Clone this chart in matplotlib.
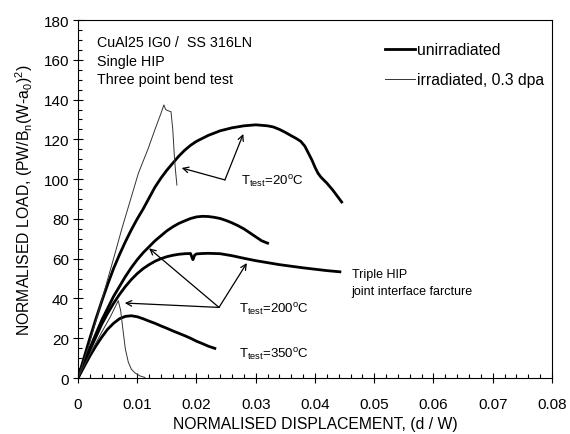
import matplotlib
matplotlib.use("Agg")
from matplotlib import pyplot as plt
from matplotlib.ticker import MultipleLocator

plt.rcParams['font.family'] = ['Liberation Sans', 'DejaVu Sans']
plt.rcParams['mathtext.fontset'] = 'custom'
plt.rcParams['mathtext.rm'] = 'Liberation Sans'
plt.rcParams['mathtext.it'] = 'Liberation Sans'

# unirradiated, T = 20 C
d_20 = [0, 0.001, 0.002, 0.003, 0.004, 0.005, 0.006, 0.007, 0.008, 0.009, 0.010, 0.011,
        0.012, 0.013, 0.014, 0.015, 0.016, 0.017, 0.018, 0.019, 0.020, 0.022, 0.024, 0.026,
        0.028, 0.030, 0.032, 0.033, 0.034, 0.035, 0.036, 0.0368, 0.0376, 0.0383, 0.0389,
        0.0395, 0.040, 0.0405, 0.041, 0.042, 0.043, 0.044, 0.0445]
p_20 = [0, 10, 20, 29.5, 38.5, 47, 55, 62, 68.5, 74.5, 80, 85, 90.5, 96, 100.5, 104.5,
        108, 111.5, 114.5, 117, 119, 122, 124.3, 125.8, 126.8, 127.3, 126.8, 126.2, 125,
        123.5, 121.8, 120.5, 119, 116.5, 113, 109.5, 106, 103, 101, 98, 94.5, 90.5, 88.5]

# unirradiated, T = 200 C (single HIP)
d_200 = [0, 0.001, 0.002, 0.003, 0.004, 0.005, 0.006, 0.007, 0.008, 0.009, 0.010, 0.011,
         0.012, 0.013, 0.014, 0.015, 0.016, 0.017, 0.018, 0.019, 0.020, 0.021, 0.022,
         0.023, 0.024, 0.025, 0.026, 0.027, 0.028, 0.029, 0.030, 0.031, 0.032]
p_200 = [0, 7.5, 15, 22, 29, 35, 41, 46, 51, 55.5, 59.5, 63, 66, 69, 71.5, 74, 76, 77.7,
         79, 80.2, 81, 81.3, 81.2, 80.8, 80.2, 79.2, 78, 76.6, 75, 73, 71, 69, 67.8]

# unirradiated, T = 200 C (triple HIP)
d_200t = [0, 0.001, 0.002, 0.003, 0.004, 0.005, 0.006, 0.007, 0.008, 0.009, 0.010, 0.011,
          0.012, 0.013, 0.014, 0.015, 0.016, 0.017, 0.018, 0.019, 0.0192, 0.0194, 0.0197,
          0.020, 0.021, 0.022, 0.024, 0.026, 0.028, 0.030, 0.032, 0.034, 0.036, 0.038,
          0.040, 0.042, 0.0442]
p_200t = [0, 7, 14, 20.5, 27, 32.5, 37.5, 42, 46, 49.5, 52.5, 55, 57, 58.7, 60, 61, 61.7,
          62.2, 62.5, 62.6, 61, 59.5, 61.8, 62.4, 62.6, 62.7, 62.5, 61.5, 60.2, 59, 58, 57,
          56.2, 55.4, 54.7, 54, 53.4]

# unirradiated, T = 350 C
d_350 = [0, 0.001, 0.002, 0.003, 0.004, 0.005, 0.006, 0.007, 0.008, 0.009, 0.010, 0.011,
         0.012, 0.013, 0.014, 0.015, 0.016, 0.017, 0.018, 0.019, 0.020, 0.021, 0.022, 0.0231]
p_350 = [0, 5.5, 11, 16, 20.5, 24.5, 27.5, 29.8, 31, 31.3, 30.8, 29.8, 28.6, 27.5, 26.2,
         25, 23.7, 22.5, 21.3, 20, 18.5, 17.3, 16, 14.9]

# irradiated 0.3 dpa, T = 20 C
d_i20 = [0, 0.002, 0.004, 0.006, 0.0074, 0.0088, 0.0102, 0.0118, 0.013, 0.014, 0.0145,
         0.0148, 0.0152, 0.0157, 0.0160, 0.0163, 0.0165, 0.0167]
p_i20 = [0, 18, 39, 60, 75, 89, 103, 115, 125, 133, 137.3, 135, 134.4, 133.9, 125, 110,
         103, 97]

# irradiated 0.3 dpa, T = 200 C
d_i200 = [0, 0.002, 0.004, 0.0055, 0.0068, 0.0072, 0.0076, 0.0080, 0.0085, 0.009,
          0.0096, 0.0105, 0.0113]
p_i200 = [0, 12, 23, 31, 38.9, 34, 24, 14.5, 7.9, 4.5, 2.6, 1.0, 0.3]

x_ticks = [0, 0.01, 0.02, 0.03, 0.04, 0.05, 0.06, 0.07, 0.08]
x_labels = ['0', '0.01', '0.02', '0.03', '0.04', '0.05', '0.06', '0.07', '0.08']

fig = plt.figure(figsize=(5.7, 4.35), dpi=100)
ax = fig.add_axes([0.1368, 0.1287, 0.8316, 0.823])

thick = dict(color='black', lw=2.0)
thin = dict(color='#333333', lw=0.7)
ax.plot(d_20, p_20, **thick)
ax.plot(d_200, p_200, **thick)
ax.plot(d_200t, p_200t, **thick)
ax.plot(d_350, p_350, **thick)
ax.plot(d_i20, p_i20, **thin)
ax.plot(d_i200, p_i200, **thin)

ax.set_xlim(0, 0.08)
ax.set_ylim(0, 180)
ax.set_xticks(x_ticks, x_labels)
ax.xaxis.set_minor_locator(MultipleLocator(0.002))
ax.yaxis.set_major_locator(MultipleLocator(20))
ax.yaxis.set_minor_locator(MultipleLocator(5))
ax.tick_params(which='major', direction='inout', length=7, width=0.8, labelsize=11)
ax.tick_params(axis='x', which='major', pad=10)
ax.tick_params(axis='y', which='major', pad=3)
ax.tick_params(which='minor', direction='in', length=3, width=0.8)
for s in ax.spines.values():
    s.set_linewidth(0.8)

ax.set_xlabel('NORMALISED DISPLACEMENT, (d / W)', fontsize=11.3, labelpad=4)
ax.set_ylabel(r'NORMALISED LOAD, (PW/B$_{\rm n}$(W-a$_{\rm 0}$)$^{\rm 2}$)', fontsize=11.3, labelpad=6)

# header text
ax.text(0.0032, 168.7, 'CuAl25 IG0 /  SS 316LN', fontsize=10.3, va='center')
ax.text(0.0032, 159.5, 'Single HIP', fontsize=10.3, va='center')
ax.text(0.0032, 150.3, 'Three point bend test', fontsize=10.3, va='center')

# legend drawn by hand
ax.plot([0.0518, 0.0569], [165.4, 165.4], **thick)
ax.plot([0.0518, 0.0569], [150.3, 150.3], **thin)
ax.text(0.0572, 165.4, 'unirradiated', fontsize=11.3, va='center')
ax.text(0.0572, 150.3, 'irradiated, 0.3 dpa', fontsize=11.3, va='center')

arrow = dict(arrowstyle='->', color='black', lw=0.9, shrinkA=0, shrinkB=0)
for tip in [(0.0175, 105.6), (0.0279, 122.7)]:
    ax.annotate('', xy=tip, xytext=(0.0248, 99.6), arrowprops=arrow)
for tip in [(0.0079, 37.7), (0.0120, 65.2), (0.0285, 57.8)]:
    ax.annotate('', xy=tip, xytext=(0.0238, 35.5), arrowprops=arrow)

ax.text(0.0275, 99, r'T$_{\rm test}$=20$^{\rm o}$C', fontsize=9.5, va='center')
ax.text(0.0272, 34.5, r'T$_{\rm test}$=200$^{\rm o}$C', fontsize=9.5, va='center')
ax.text(0.0272, 12, r'T$_{\rm test}$=350$^{\rm o}$C', fontsize=9.5, va='center')
ax.text(0.0462, 52.3, 'Triple HIP', fontsize=9, va='center')
ax.text(0.0462, 44, 'joint interface farcture', fontsize=9, va='center')

fig.savefig('out.png', dpi=100)
